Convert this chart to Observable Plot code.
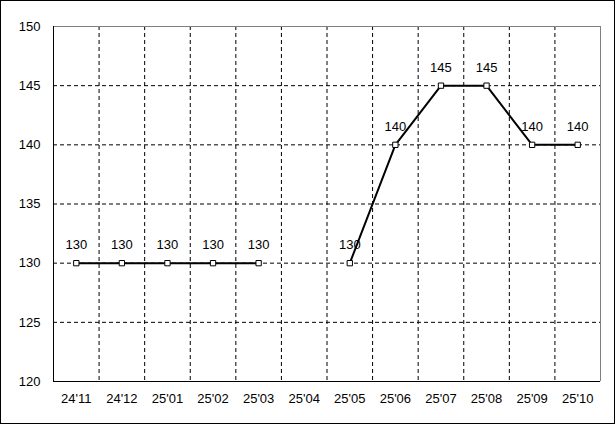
<!DOCTYPE html>
<html>
<head>
<meta charset="utf-8">
<script src="https://cdn.jsdelivr.net/npm/d3@7"></script>
<script src="https://cdn.jsdelivr.net/npm/@observablehq/plot@0.6"></script>
<style>
  html, body { margin: 0; padding: 0; background: #fff; }
  svg { display: block; outline: 1px solid #000; outline-offset: -1px; }
</style>
</head>
<body>
<div id="chart"></div>
<script>
const categories = ["24'11","24'12","25'01","25'02","25'03","25'04","25'05","25'06","25'07","25'08","25'09","25'10"];
const values = [130, 130, 130, 130, 130, null, 130, 140, 145, 145, 140, 140];
const yTicks = [120, 125, 130, 135, 140, 145, 150];

const data = categories.map((c, i) => ({i, c, v: values[i]}));
const pts = data.filter(d => d.v != null);
const bounds = d3.range(0.5, categories.length - 1, 1);

const chart = Plot.plot({
  width: 615,
  height: 424,
  marginLeft: 53,
  marginRight: 15,
  marginTop: 26,
  marginBottom: 43,
  style: {fontFamily: "'Liberation Sans', Arial, sans-serif", fontSize: "13px", color: "#000", background: "#fff"},
  x: {type: "linear", domain: [-0.5, categories.length - 0.5], ticks: d3.range(categories.length),
      tickFormat: i => categories[i], tickSize: 0, tickPadding: 12, label: null},
  y: {domain: [120, 150], ticks: yTicks, tickSize: 0, tickPadding: 13, label: null},
  marks: [
    Plot.ruleY(yTicks.slice(1, -1), {stroke: "#000", strokeDasharray: "4,3", strokeWidth: 1}),
    Plot.ruleX(bounds, {stroke: "#000", strokeDasharray: "4,3", strokeWidth: 1}),
    Plot.ruleY([150], {stroke: "#808080"}),
    Plot.ruleX([categories.length - 0.5], {stroke: "#808080"}),
    Plot.ruleX([-0.5], {stroke: "#000"}),
    Plot.ruleY([120], {stroke: "#000"}),
    Plot.line(data, {x: "i", y: "v", stroke: "#000", strokeWidth: 2}),
    Plot.dot(pts, {x: "i", y: "v", symbol: "square", r: 3, fill: "#fff", stroke: "#000", strokeWidth: 1}),
    Plot.text(pts, {x: "i", y: "v", text: d => String(d.v), dy: -18, fill: "#000", fontSize: 13})
  ]
});
document.getElementById("chart").appendChild(chart);
</script>
</body>
</html>
